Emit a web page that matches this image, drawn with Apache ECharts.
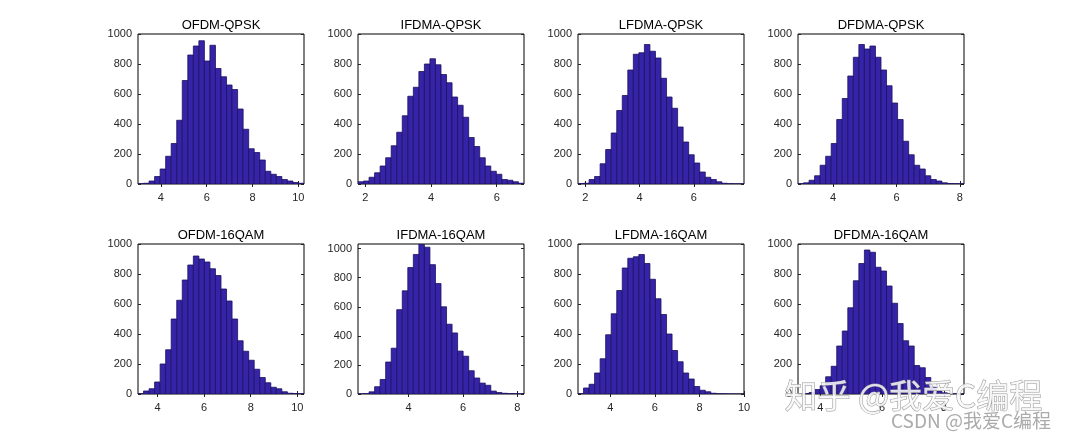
<!DOCTYPE html>
<html><head><meta charset="utf-8">
<script src="https://cdn.jsdelivr.net/npm/echarts@6/dist/echarts.min.js"></script>
<style>html,body{margin:0;padding:0;background:#fff}#c{width:1065px;height:443px}</style>
</head><body><div id="c"></div>
<script>
// ---- data ----
const titles = ['OFDM-QPSK','IFDMA-QPSK','LFDMA-QPSK','DFDMA-QPSK','OFDM-16QAM','IFDMA-16QAM','LFDMA-16QAM','DFDMA-16QAM'];
// histogram range [first bin edge, last bin edge]
const binRanges = [[3.0,10.25],[1.78,6.83],[1.73,7.85],[2.895,8.13],[3.157,10.29],[2.14,8.245],[2.545,10.0],[3.276,8.65]];
const ofdmQpsk   = [2,5,20,50,100,185,270,425,690,860,920,955,820,925,770,715,660,630,500,365,235,210,160,85,65,50,30,20,10,5];
const ifdmaQpsk  = [15,20,45,75,120,175,255,345,455,585,645,750,800,835,795,730,675,580,525,445,310,250,175,120,85,65,30,25,15,5];
const lfdmaQpsk  = [3,5,30,50,135,230,340,490,590,760,865,875,930,885,840,705,580,505,380,280,195,140,80,45,30,15,5,2,1,1];
const dfdmaQpsk  = [2,8,25,55,125,185,270,430,570,720,845,930,900,920,845,760,655,540,430,285,195,125,100,55,30,20,8,3,2,1];
const ofdm16     = [2,20,35,80,200,295,500,625,760,860,920,900,880,835,790,700,620,500,355,285,225,165,110,75,45,35,15,5,3,2];
const ifdma16    = [1,2,15,50,100,220,315,580,710,870,960,1030,1010,890,760,600,480,420,295,260,160,110,75,60,20,10,5,3,2,1];
const lfdma16    = [2,40,65,140,235,395,535,690,840,905,915,930,870,765,635,530,400,290,215,140,100,50,25,15,5,2,1,0,0,0];
const dfdma16    = [1,3,10,30,55,115,185,320,420,575,755,870,960,945,845,820,720,605,470,355,320,190,175,110,45,20,8,3,1,0];
const allCounts = [ofdmQpsk,ifdmaQpsk,lfdmaQpsk,dfdmaQpsk,ofdm16,ifdma16,lfdma16,dfdma16];
const xTickLabels = [[4,6,8,10],[2,4,6],[2,4,6],[4,6,8],[4,6,8,10],[4,6,8],[4,6,8,10],[4,6,8]];
const yTickLabels = [0,200,400,600,800,1000];
const yMax = [1000,1000,1000,1000,1000,1032,1000,1000];

// ---- layout ----
const FONT = '"Liberation Sans", Arial, Helvetica, sans-serif';
const gridLeft = [138,358,578,798], gridTop = [34,244], GW = 166, GH = 150;
const grids = [], xAxes = [], yAxes = [], series = [], title = [];
const labelColor = '#262626';

function renderItem(params, api) {
  const p0 = api.coord([api.value(0), api.value(2)]);
  const p1 = api.coord([api.value(1), 0]);
  return {type:'rect', shape:{x:p0[0], y:p0[1], width:p1[0]-p0[0], height:p1[1]-p0[1]},
    style:{fill:'#3524a8', stroke:'#1c1060', lineWidth:0.8}};
}
const plain = v => String(v);

for (let i = 0; i < 8; i++) {
  const col = i % 4, row = Math.floor(i / 4);
  grids.push({left:gridLeft[col], top:gridTop[row], width:GW, height:GH, show:true,
    borderColor:'#000', borderWidth:1, backgroundColor:'#fff', containLabel:false});
  const [lo, hi] = binRanges[i];
  const tickStyle = {show:true, inside:true, length:3, lineStyle:{color:'#222', width:1}};
  xAxes.push({type:'value', gridIndex:i, min:lo, max:hi, position:'bottom',
    axisLine:{show:false}, splitLine:{show:false},
    axisTick:Object.assign({customValues:xTickLabels[i]}, tickStyle),
    axisLabel:{customValues:xTickLabels[i], formatter:plain, color:labelColor, fontSize:11, fontFamily:FONT, margin:8}});
  xAxes.push({type:'value', gridIndex:i, min:lo, max:hi, position:'top',
    axisLine:{show:false}, splitLine:{show:false},
    axisTick:Object.assign({customValues:xTickLabels[i]}, tickStyle), axisLabel:{show:false}});
  yAxes.push({type:'value', gridIndex:i, min:0, max:yMax[i], position:'left',
    axisLine:{show:false}, splitLine:{show:false},
    axisTick:Object.assign({customValues:yTickLabels}, tickStyle),
    axisLabel:{customValues:yTickLabels, formatter:plain, color:labelColor, fontSize:11, fontFamily:FONT, margin:6}});
  yAxes.push({type:'value', gridIndex:i, min:0, max:yMax[i], position:'right',
    axisLine:{show:false}, splitLine:{show:false},
    axisTick:Object.assign({customValues:yTickLabels}, tickStyle), axisLabel:{show:false}});
  const counts = allCounts[i], n = counts.length, w = (hi - lo) / n;
  const data = counts.map((c, k) => [lo + k * w, lo + (k + 1) * w, c]);
  series.push({type:'custom', xAxisIndex:2*i, yAxisIndex:2*i, renderItem, data,
    encode:{x:[0,1], y:2}, clip:true, silent:true});
  title.push({text:titles[i], left:gridLeft[col] + GW/2, top:gridTop[row] - 15, textAlign:'center', padding:0,
    textStyle:{fontSize:13, fontWeight:'normal', color:'#000', fontFamily:FONT}});
}

const chart = echarts.init(document.getElementById('c'), null, {renderer:'canvas'});
chart.setOption({
  animation:false, backgroundColor:'#fff',
  title, grid:grids, xAxis:xAxes, yAxis:yAxes, series,
  graphic:[
    {type:'text', left:784, top:378, z:100, style:{text:'知乎 @我爱C编程', fontSize:33,
      fontFamily:'"Noto Sans CJK SC", sans-serif', fill:'rgba(250,250,250,0.85)', stroke:'#9a9a9a', lineWidth:1}},
    {type:'text', left:891, top:411, z:100, style:{text:'CSDN @我爱C编程', fontSize:19,
      fontFamily:'"Noto Sans CJK SC", sans-serif', fill:'#ababab'}}
  ]
});
</script></body></html>
